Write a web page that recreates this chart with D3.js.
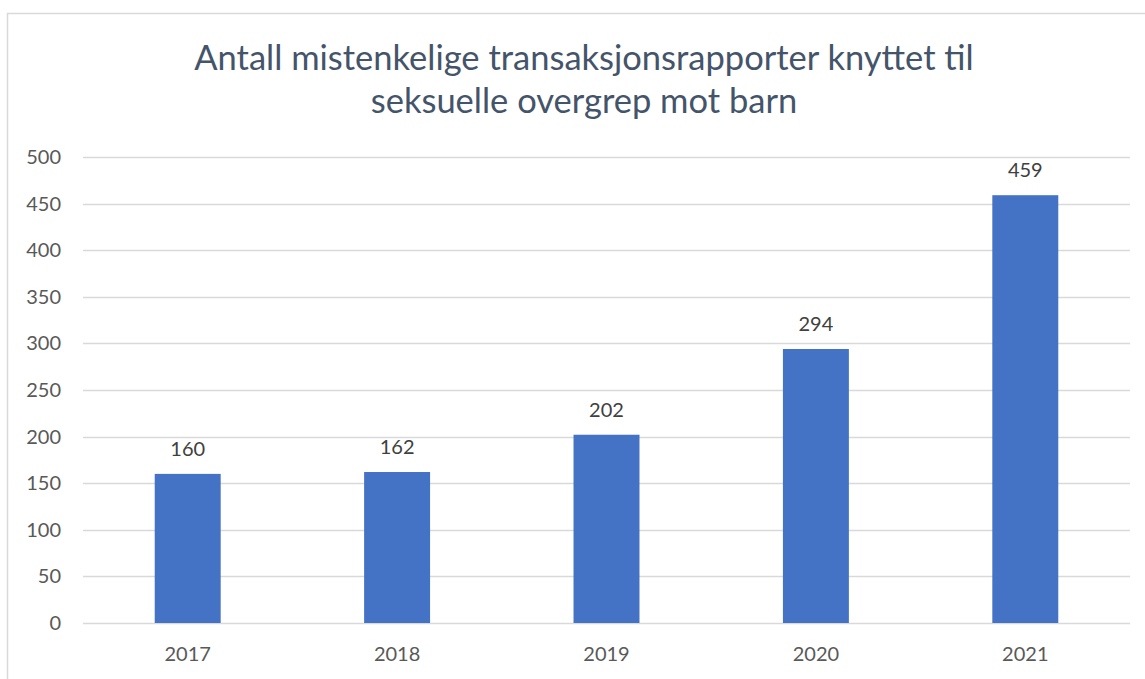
<!DOCTYPE html>
<html>
<head>
<meta charset="utf-8">
<script src="https://cdn.jsdelivr.net/npm/d3@7"></script>
<style>
  body { margin: 0; background: #fff; }
  text { font-family: Lato, "Open Sans", sans-serif; }
</style>
</head>
<body>
<script>
var width = 1145,
    height = 679;

var years = ['2017', '2018', '2019', '2020', '2021'];
var counts = [160, 162, 202, 294, 459];
var yTicks = [0, 50, 100, 150, 200, 250, 300, 350, 400, 450, 500];
var titleLines = ['Antall mistenkelige transaksjonsrapporter knyttet til', 'seksuelle overgrep mot barn'];

var margin = {left: 83, right: 15, top: 157, bottom: 56};

var svg = d3.select('body').append('svg')
    .attr('width', width)
    .attr('height', height);

// chart frame (only left and top edge are in view)
svg.append('rect')
    .attr('x', 7.5).attr('y', 13.5)
    .attr('width', width + 20).attr('height', height + 20)
    .attr('fill', 'none')
    .attr('stroke', '#d9d9d9')
    .attr('stroke-width', 1.5);

var x = d3.scaleBand()
    .domain(years)
    .range([margin.left, width - margin.right])
    .paddingInner(0.685)
    .paddingOuter(0.3425);

var y = d3.scaleLinear()
    .domain([0, 500])
    .range([height - margin.bottom, margin.top]);

// gridlines
svg.append('g')
    .selectAll('line')
    .data(yTicks)
    .enter().append('line')
    .attr('x1', margin.left)
    .attr('x2', width - margin.right)
    .attr('y1', function(d) { return Math.round(y(d)) + 0.5; })
    .attr('y2', function(d) { return Math.round(y(d)) + 0.5; })
    .attr('stroke', '#d9d9d9')
    .attr('stroke-width', 1.5);

// y axis labels
var yAxis = d3.axisLeft(y).tickValues(yTicks).tickSize(0).tickPadding(22);
var gy = svg.append('g')
    .attr('transform', 'translate(' + margin.left + ',0)')
    .call(yAxis);
gy.select('.domain').remove();
gy.selectAll('text')
    .attr('fill', '#595959')
    .style('font-size', '20px');

// x axis labels
var xAxis = d3.axisBottom(x).tickSize(0).tickPadding(24);
var gx = svg.append('g')
    .attr('transform', 'translate(0,' + y(0) + ')')
    .call(xAxis);
gx.select('.domain').remove();
gx.selectAll('text')
    .attr('fill', '#595959')
    .style('font-size', '20px');

// bars
svg.append('g')
    .selectAll('rect')
    .data(counts)
    .enter().append('rect')
    .attr('x', function(d, i) { return x(years[i]); })
    .attr('y', function(d) { return y(d); })
    .attr('width', x.bandwidth())
    .attr('height', function(d) { return y(0) - y(d); })
    .attr('fill', '#4472c4');

// value labels
svg.append('g')
    .selectAll('text')
    .data(counts)
    .enter().append('text')
    .attr('x', function(d, i) { return x(years[i]) + x.bandwidth() / 2; })
    .attr('y', function(d) { return y(d) - 18; })
    .attr('text-anchor', 'middle')
    .attr('fill', '#404040')
    .style('font-size', '20px')
    .text(function(d) { return d; });

// title
svg.append('g')
    .selectAll('text')
    .data(titleLines)
    .enter().append('text')
    .attr('x', 584)
    .attr('y', function(d, i) { return 70 + i * 43; })
    .attr('text-anchor', 'middle')
    .attr('fill', '#44546a')
    .style('font-size', '34.5px')
    .text(function(d) { return d; });
</script>
</body>
</html>
